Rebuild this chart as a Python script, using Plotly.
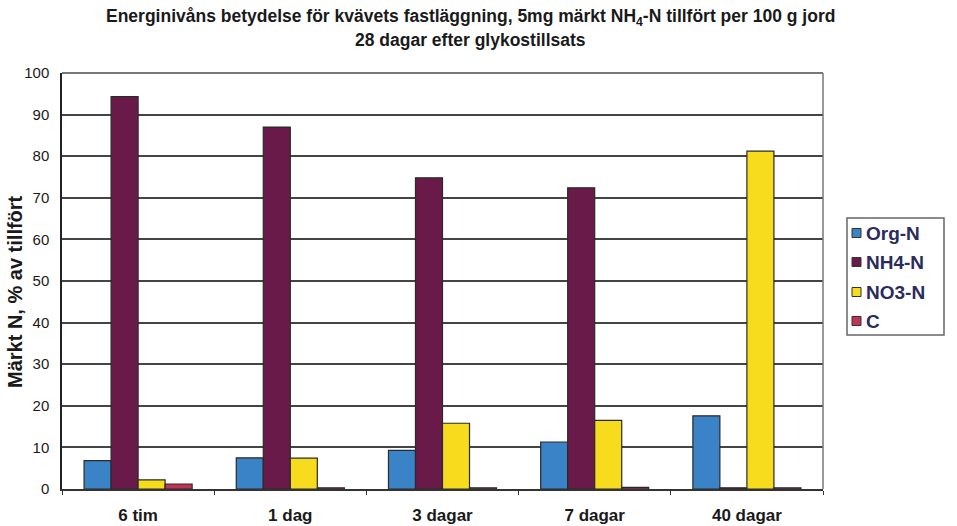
import plotly.graph_objects as go

# Sampling times after glucose addition
categories = ["6 tim", "1 dag", "3 dagar", "7 dagar", "40 dagar"]

# Labelled nitrogen, % of amount added
org_n = [6.8, 7.5, 9.3, 11.3, 17.6]
nh4_n = [94.3, 87.0, 74.8, 72.4, 0.3]
no3_n = [2.2, 7.4, 15.8, 16.5, 81.2]
c_val = [1.2, 0.3, 0.3, 0.4, 0.3]

series_names = ["Org-N", "NH4-N", "NO3-N", "C"]
series_values = [org_n, nh4_n, no3_n, c_val]
series_colors = ["#3a83c6", "#6a1a48", "#f6dc1c", "#c33358"]

y_ticks = list(range(0, 101, 10))

title_lines = [
    "Energinivåns betydelse för kvävets fastläggning, 5mg märkt NH<sub>4</sub>-N tillfört per 100 g jord",
    "28 dagar efter glykostillsats",
]
y_title = "Märkt N, % av tillfört"

W, H = 957, 526
ML, MR, MT, MB = 62, 134, 73, 37
PW, PH = W - ML - MR, H - MT - MB


def px_x(px):
    """Pixel column -> paper x."""
    return (px - ML) / PW


def px_y(py):
    """Pixel row -> paper y."""
    return (H - MB - py) / PH


font_family = "Liberation Sans, Arial, sans-serif"

fig = go.Figure()
for name, vals, col in zip(series_names, series_values, series_colors):
    fig.add_trace(go.Bar(
        name=name, x=categories, y=vals, showlegend=False,
        marker=dict(color=col, line=dict(color="#2a2a2a", width=1.2)),
    ))

fig.update_layout(
    width=W, height=H,
    margin=dict(l=ML, r=MR, t=MT, b=MB, autoexpand=False),
    paper_bgcolor="white", plot_bgcolor="white",
    barmode="group", bargap=0.29, bargroupgap=0.0,
    font=dict(family=font_family, size=15, color="#1a1a1a"),
    xaxis=dict(
        automargin=False,
        showgrid=False, showline=True, linecolor="#333333", linewidth=1.5,
        ticks="outside", tickson="boundaries", ticklen=4, tickcolor="#333333",
        ticklabelstandoff=10,
        tickfont=dict(family=font_family, size=17, color="#1a1a1a", weight="bold"),
    ),
    yaxis=dict(
        automargin=False,
        range=[0, 100], tickvals=y_ticks,
        showgrid=True, gridcolor="#444444", gridwidth=1.6,
        showline=True, linecolor="#222222", linewidth=1.5,
        ticks="", ticklabelstandoff=8,
        tickfont=dict(family=font_family, size=15, color="#1a1a1a"),
    ),
)

# Two-line heading
for line, cy in zip(title_lines, [17, 40]):
    fig.add_annotation(xref="paper", yref="paper", x=px_x(471), y=px_y(cy),
                       xanchor="center", yanchor="middle", showarrow=False,
                       text=f"<b>{line}</b>",
                       font=dict(family=font_family, size=17.5, color="#1a1a1a"))

# Vertical axis caption
fig.add_annotation(xref="paper", yref="paper", x=px_x(15), y=px_y(292),
                   xanchor="center", yanchor="middle", showarrow=False,
                   textangle=-90, text=f"<b>{y_title}</b>",
                   font=dict(family=font_family, size=20, color="#1a1a1a"))

# Grey frame on top and right of the plot area
fig.add_shape(type="line", xref="paper", yref="paper", x0=0, x1=1, y0=1, y1=1,
              line=dict(color="#777777", width=2))
fig.add_shape(type="line", xref="paper", yref="paper", x0=1, x1=1, y0=0, y1=1,
              line=dict(color="#777777", width=1.5))

# Legend box with small colour squares
fig.add_shape(type="rect", xref="paper", yref="paper",
              x0=px_x(847), x1=px_x(944), y0=px_y(335), y1=px_y(218),
              line=dict(color="#666666", width=1.5), fillcolor="white")
row_y = [233, 262, 292, 321]
for name, col, ry in zip(series_names, series_colors, row_y):
    fig.add_shape(type="rect", xref="paper", yref="paper",
                  x0=px_x(852), x1=px_x(861), y0=px_y(ry + 4.5), y1=px_y(ry - 4.5),
                  line=dict(color="#333333", width=1), fillcolor=col)
    fig.add_annotation(xref="paper", yref="paper", x=px_x(864), y=px_y(ry),
                       xanchor="left", yanchor="middle", showarrow=False,
                       text=f"<b>{name}</b>",
                       font=dict(family=font_family, size=19, color="#2b2b5c"))

fig.write_html("out.html")
